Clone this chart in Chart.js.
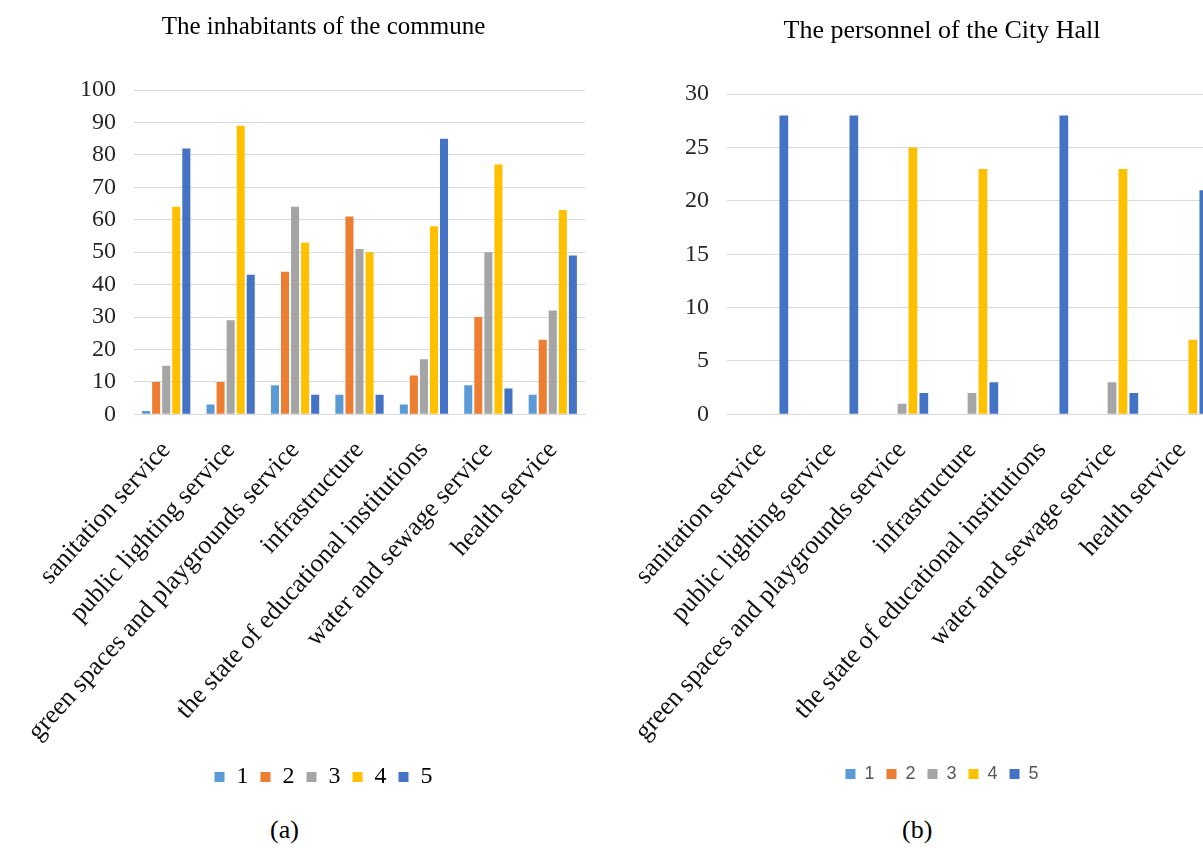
<!DOCTYPE html>
<html lang="en">
<head>
    <meta charset="UTF-8">
    <title>Evaluation of public services</title>
    <script src="https://cdn.jsdelivr.net/npm/chart.js"></script>
</head>
<body>
    <div class="painel" id="painelA"><canvas id="graficoA"></canvas></div>
    <div class="painel" id="painelB"><canvas id="graficoB"></canvas></div>
    <div class="legenda" id="legendaA">(a)</div>
    <div class="legenda" id="legendaB">(b)</div>
</body>
</html>

<script>
    const categorias = [
        'sanitation service',
        'public lighting service',
        'green spaces and playgrounds service',
        'infrastructure',
        'the state of educational institutions',
        'water and sewage service',
        'health service'
    ];
    const notas = ['1', '2', '3', '4', '5'];
    const cores = ['#5B9BD5', '#ED7D31', '#A5A5A5', '#FFC000', '#4472C4'];

    // The inhabitants of the commune
    const habitantes1 = [1, 3, 9, 6, 3, 9, 6];
    const habitantes2 = [10, 10, 44, 61, 12, 30, 23];
    const habitantes3 = [15, 29, 64, 51, 17, 50, 32];
    const habitantes4 = [64, 89, 53, 50, 58, 77, 63];
    const habitantes5 = [82, 43, 6, 6, 85, 8, 49];

    // The personnel of the City Hall
    const pessoal1 = [0, 0, 0, 0, 0, 0, 0];
    const pessoal2 = [0, 0, 0, 0, 0, 0, 0];
    const pessoal3 = [0, 0, 1, 2, 0, 3, 0];
    const pessoal4 = [0, 0, 25, 23, 0, 23, 7];
    const pessoal5 = [28, 28, 2, 3, 28, 2, 21];

    const serif = "'Liberation Serif', 'Times New Roman', serif";

    function montarDatasets(series){
        var lista = [];
        for(var i = 0; i < series.length; i++){
            lista.push({
                label: notas[i],
                data: series[i],
                backgroundColor: cores[i],
                borderWidth: 0
            });
        }
        return lista;
    }

    // p = ajustes de layout de cada painel
    function configurar(titulo, series, maximo, passo, legendaFonte, p){
        return {
            type: 'bar',
            data: {
                labels: categorias,
                datasets: montarDatasets(series)
            },
            options: {
                responsive: true,
                maintainAspectRatio: false,
                animation: false,
                categoryPercentage: 0.78,
                barPercentage: 0.8,
                layout: { padding: p.padding },
                plugins: {
                    title: {
                        display: true,
                        text: titulo,
                        color: '#000',
                        font: { family: serif, size: p.tituloTam, weight: 'normal' },
                        padding: p.tituloPad
                    },
                    legend: {
                        display: true,
                        position: 'bottom',
                        labels: {
                            boxWidth: 10,
                            boxHeight: 10,
                            padding: 12,
                            color: legendaFonte.color,
                            font: legendaFonte.font
                        }
                    },
                    tooltip: { enabled: false }
                },
                scales: {
                    x: {
                        grid: { display: false, drawTicks: false },
                        border: { display: true, color: '#d9d9d9' },
                        ticks: {
                            autoSkip: false,
                            maxRotation: 48,
                            minRotation: 48,
                            padding: 21,
                            color: '#111',
                            font: { family: serif, size: 26 }
                        },
                        afterFit: function(escala){
                            escala.height += p.extraX;
                        }
                    },
                    y: {
                        min: 0,
                        max: maximo,
                        grid: { color: '#d9d9d9', drawTicks: false },
                        border: { display: false },
                        ticks: {
                            stepSize: passo,
                            padding: 18,
                            color: '#262626',
                            font: { family: serif, size: 24 }
                        }
                    }
                }
            }
        };
    }

    var graficoA = new Chart(
        document.getElementById('graficoA'),
        configurar('The inhabitants of the commune',
            [habitantes1, habitantes2, habitantes3, habitantes4, habitantes5],
            100, 10,
            { color: '#000', font: { family: serif, size: 24 } },
            {
                padding: { left: 62, right: 35, bottom: 1 },
                tituloTam: 25,
                tituloPad: { top: 12, bottom: 48 },
                extraX: -15
            })
    );

    var graficoB = new Chart(
        document.getElementById('graficoB'),
        configurar('The personnel of the City Hall',
            [pessoal1, pessoal2, pessoal3, pessoal4, pessoal5],
            30, 5,
            { color: '#595959', font: { family: "'Liberation Sans', Arial, sans-serif", size: 18 } },
            {
                padding: { left: 67, right: 47, bottom: 7 },
                tituloTam: 26,
                tituloPad: { top: 16, bottom: 47 },
                extraX: -15
            })
    );
</script>
<style>
    body{
        margin: 0;
        width: 1203px;
        height: 848px;
        overflow: hidden;
        background: #fff;
        position: relative;
    }
    .painel{
        position: absolute;
        top: 0;
        height: 800px;
    }
    #painelA{
        left: 0;
        width: 620px;
    }
    #painelB{
        left: 600px;
        width: 664px;
    }
    .legenda{
        position: absolute;
        top: 815px;
        font-family: 'Liberation Serif', 'Times New Roman', serif;
        font-size: 26px;
        color: #000;
    }
    #legendaA{ left: 270px; }
    #legendaB{ left: 902px; }
</style>
